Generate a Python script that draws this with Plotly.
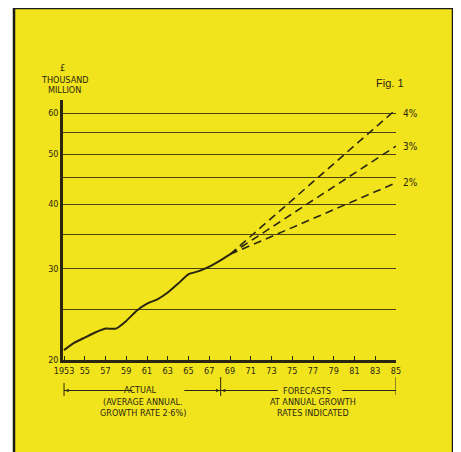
import math
import plotly.graph_objects as go

# ---- data ----
actual_years = [1953, 1954, 1955, 1956, 1957, 1958, 1959, 1960, 1961,
                1962, 1963, 1964, 1965, 1966, 1967, 1968, 1969]
actual_values = [20.9, 21.6, 22.1, 22.6, 23.0, 23.0, 23.8, 24.9, 25.7,
                 26.2, 27.0, 28.1, 29.3, 29.7, 30.3, 31.1, 32.0]

forecast_years = [1969, 1985]
forecast_4 = [32.0, 61.0]
forecast_3 = [32.0, 51.8]
forecast_2 = [32.0, 44.0]
forecast_labels = ["4%", "3%", "2%"]

x_tick_vals = list(range(1953, 1986, 2))
x_tick_text = ["1953"] + [str(y)[2:] for y in x_tick_vals[1:]]
y_tick_vals = [20, 25, 30, 35, 40, 45, 50, 55, 60]
y_tick_text = ["20", "", "30", "", "40", "", "50", "", "60"]

# ---- style ----
YELLOW = "#f2e41c"
INK = "#2a2610"
FONT = "Liberation Sans Narrow, DejaVu Sans Condensed, Arial Narrow, sans-serif"

# page body has an 8px margin: figure origin sits at (8, 8) of the window
OFF = 8
W, H = 461 - OFF, 452 - OFF
PLOT_L, PLOT_R, PLOT_T, PLOT_B = 63, 396, 100, 360   # window pixel coords
L, T = PLOT_L - OFF, PLOT_T - OFF
R, B = W - (PLOT_R - OFF), H - (PLOT_B - OFF)
PW = PLOT_R - PLOT_L
PH = PLOT_B - PLOT_T


def px_x(p):
    return (p - PLOT_L) / PW


def px_y(p):
    return (PLOT_B - p) / PH


fig = go.Figure()

fig.add_trace(go.Scatter(
    x=actual_years, y=actual_values, mode="lines",
    line=dict(color=INK, width=2, shape="spline", smoothing=0.4),
    hoverinfo="skip", showlegend=False))

for vals in (forecast_4, forecast_3, forecast_2):
    fig.add_trace(go.Scatter(
        x=forecast_years, y=vals, mode="lines",
        line=dict(color=INK, width=1.6, dash="8px,5px"),
        hoverinfo="skip", showlegend=False))

shapes = [
    dict(type="rect", xref="paper", yref="paper",
         x0=px_x(14), x1=px_x(453), y0=px_y(480), y1=px_y(8),
         fillcolor=YELLOW, line=dict(color="#1a1a1a", width=2.5), layer="below"),
]

yb = px_y(390.5)
seg = dict(type="line", xref="x", yref="paper", line=dict(color=INK, width=1))
shapes += [
    dict(seg, x0=1953, x1=1953, y0=px_y(383), y1=px_y(396)),
    dict(seg, x0=1968.1, x1=1968.1, y0=px_y(377), y1=px_y(396)),
    dict(seg, x0=1985, x1=1985, y0=px_y(377), y1=px_y(395)),
    dict(seg, x0=1953, x1=1959.6, y0=yb, y1=yb),
    dict(seg, x0=1964.6, x1=1968.1, y0=yb, y1=yb),
    dict(seg, x0=1968.1, x1=1973.6, y0=yb, y1=yb),
    dict(seg, x0=1979.8, x1=1985, y0=yb, y1=yb),
]

ann = []
txt = dict(showarrow=False, xanchor="center", yanchor="middle",
           font=dict(family=FONT, size=9, color=INK))
ann += [
    dict(txt, xref="paper", yref="paper", x=px_x(62), y=px_y(68), text="£"),
    dict(txt, xref="paper", yref="paper", x=px_x(64), y=px_y(80), text="THOUSAND"),
    dict(txt, xref="paper", yref="paper", x=px_x(64), y=px_y(90), text="MILLION"),
    dict(xref="paper", yref="paper", x=px_x(390), y=px_y(83), text="Fig. 1",
         showarrow=False, xanchor="center", yanchor="middle",
         font=dict(family="Liberation Sans, Arial, sans-serif", size=11, color=INK)),
    dict(txt, xref="paper", yref="paper", x=px_x(140), y=px_y(390), text="ACTUAL"),
    dict(txt, xref="paper", yref="paper", x=px_x(143), y=px_y(402), text="(AVERAGE ANNUAL."),
    dict(txt, xref="paper", yref="paper", x=px_x(143), y=px_y(413), text="GROWTH RATE 2·6%)"),
    dict(txt, xref="paper", yref="paper", x=px_x(307), y=px_y(391), text="FORECASTS"),
    dict(txt, xref="paper", yref="paper", x=px_x(313), y=px_y(402), text="AT ANNUAL GROWTH"),
    dict(txt, xref="paper", yref="paper", x=px_x(313), y=px_y(413), text="RATES INDICATED"),
]
for lab, vals, dy in zip(forecast_labels, (forecast_4, forecast_3, forecast_2), (-4, 0, 0)):
    ann.append(dict(xref="x", yref="y", x=forecast_years[-1], y=math.log10(vals[-1]),
                    text=lab, xanchor="left", yanchor="middle", xshift=5, yshift=dy,
                    showarrow=False, font=dict(family=FONT, size=10, color=INK)))

arrow = dict(xref="x", yref="paper", text="", showarrow=True, arrowhead=2,
             arrowsize=0.7, arrowwidth=1, arrowcolor=INK, ay=0)
ann += [
    dict(arrow, x=1953.1, y=yb, ax=10),
    dict(arrow, x=1968.0, y=yb, ax=-10),
    dict(arrow, x=1968.2, y=yb, ax=10),
]

fig.update_layout(
    width=W, height=H,
    margin=dict(l=L, r=R, t=T, b=B, pad=0),
    paper_bgcolor="white",
    plot_bgcolor="rgba(0,0,0,0)",
    shapes=shapes,
    annotations=ann,
    showlegend=False,
    xaxis=dict(
        range=[1952.9, 1985], tickvals=x_tick_vals, ticktext=x_tick_text,
        showgrid=False, zeroline=False, showline=True, linecolor=INK, linewidth=2.5,
        ticks="inside", ticklen=4, tickwidth=1, tickcolor=INK,
        tickfont=dict(family=FONT, size=9, color=INK), fixedrange=True,
    ),
    yaxis=dict(
        type="log", range=[math.log10(20), math.log10(63.6)],
        tickvals=y_tick_vals, ticktext=y_tick_text,
        showgrid=True, gridcolor="#4a4118", gridwidth=1.3,
        zeroline=False, showline=True, linecolor=INK, linewidth=2.5,
        ticks="", tickfont=dict(family=FONT, size=9, color=INK), fixedrange=True,
    ),
)

fig.write_html("out.html")
